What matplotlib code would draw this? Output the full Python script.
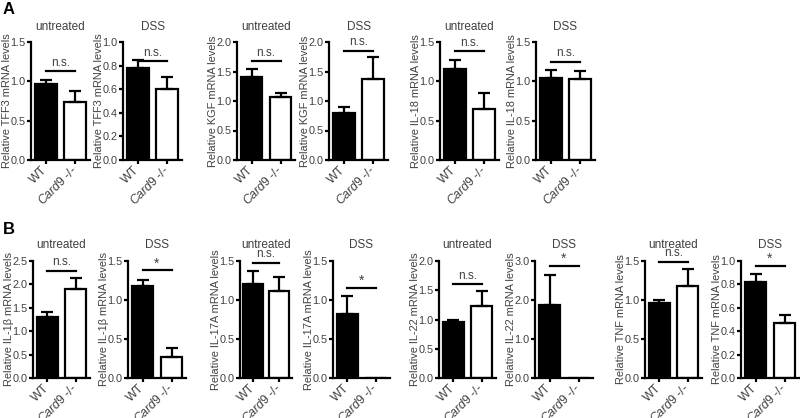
import matplotlib
matplotlib.use("Agg")
import matplotlib.pyplot as plt
import matplotlib.transforms as mtransforms
import numpy as np

plt.rcParams["font.family"] = ["Liberation Sans", "DejaVu Sans"]
plt.rcParams["mathtext.fontset"] = "custom"
plt.rcParams["mathtext.rm"] = "Liberation Sans"
plt.rcParams["mathtext.it"] = "Liberation Sans:italic"

# ── dados ──────────────────────────────────────────────────────────────── #
grupos = ["WT", r"$\mathit{Card9}$ -/-"]

# painel A
genes_a   = ["TFF3", "TFF3", "KGF", "KGF", "IL-18", "IL-18"]
cond_a    = ["untreated", "DSS", "untreated", "DSS", "untreated", "DSS"]
wt_a      = [0.96, 0.78, 1.41, 0.80, 1.16, 1.04]
wt_err_a  = [0.06, 0.07, 0.14, 0.10, 0.11, 0.11]
ko_a      = [0.74, 0.60, 1.07, 1.37, 0.65, 1.03]
ko_err_a  = [0.14, 0.10, 0.06, 0.37, 0.20, 0.10]
sig_a     = ["n.s."] * 6
sig_y_a   = [1.13, 0.84, 1.68, 1.85, 1.38, 1.25]
ymax_a    = [1.5, 1.0, 2.0, 2.0, 1.5, 1.5]
ystep_a   = [0.5, 0.2, 0.5, 0.5, 0.5, 0.5]

# painel B
genes_b   = ["IL-1β", "IL-1β", "IL-17A", "IL-17A", "IL-22", "IL-22", "TNF", "TNF"]
cond_b    = ["untreated", "DSS"] * 4
wt_b      = [1.30, 1.18, 1.21, 0.82, 0.96, 1.87, 0.96, 0.82]
wt_err_b  = [0.12, 0.08, 0.16, 0.23, 0.03, 0.77, 0.04, 0.07]
ko_b      = [1.90, 0.27, 1.12, 0.0, 1.23, 0.0, 1.18, 0.47]
ko_err_b  = [0.23, 0.11, 0.17, 0.0, 0.25, 0.0, 0.22, 0.07]
sig_b     = ["n.s.", "*", "n.s.", "*", "n.s.", "*", "n.s.", "*"]
sig_y_b   = [2.29, 1.38, 1.48, 1.16, 1.60, 2.88, 1.49, 0.96]
ymax_b    = [2.5, 1.5, 1.5, 1.5, 2.0, 3.0, 1.5, 1.0]
ystep_b   = [0.5, 0.5, 0.5, 0.5, 0.5, 1.0, 0.5, 0.2]

# ── layout (pixels da figura 800x418) ──────────────────────────────────── #
W, H = 800, 418
esq_a = [31, 123, 237, 329, 440, 536]
dir_a = [90, 182, 295, 388, 499, 595]
esq_b = [33, 128, 240, 333, 439, 535, 645, 741]
dir_b = [90, 186, 292, 390, 496, 593, 702, 799]
TOPO_A, BASE_A = 42, 160
TOPO_B, BASE_B = 261, 378

COR_TXT = "#404040"
LW = 1.6


def painel(fig, x0, x1, topo, base, gene, cond, wt, wt_e, ko, ko_e, sig, sig_y, ymax, ystep):
    larg = x1 - x0
    ax = fig.add_axes([x0 / W, 1 - base / H, larg / W, (base - topo) / H])
    x = np.arange(2)
    ax.bar(x, [wt, ko], 0.74, color=["black", "white"], edgecolor="black",
           linewidth=LW, zorder=2)
    for xi, v, e in zip(x, [wt, ko], [wt_e, ko_e]):
        if e > 0:
            ax.errorbar(xi, v, yerr=[[0], [e]], color="black", elinewidth=LW,
                        capsize=4.5, capthick=LW, zorder=3)
    ax.set_xlim(-0.5, 1.5)
    ax.set_ylim(0, ymax)
    ticks = np.arange(0, ymax + ystep / 2, ystep)
    ax.set_yticks(ticks)
    ax.set_yticklabels([f"{t:.1f}" for t in ticks], fontsize=7.8, color=COR_TXT)
    ax.set_xticks(x)
    ax.set_xticklabels(grupos, rotation=45, ha="right", va="center",
                       rotation_mode="anchor", fontsize=8.8, color=COR_TXT)
    desloc = mtransforms.ScaledTranslation(0.07, 0.015, fig.dpi_scale_trans)
    for lbl in ax.get_xticklabels():
        lbl.set_transform(lbl.get_transform() + desloc)
    ax.tick_params(axis="both", width=LW, length=3, pad=1)
    ax.tick_params(axis="x", pad=3)
    for s in ["top", "right"]:
        ax.spines[s].set_visible(False)
    for s in ["left", "bottom"]:
        ax.spines[s].set_linewidth(LW)
    ax.set_ylabel(f"Relative {gene} mRNA levels", fontsize=7.9, color=COR_TXT)
    ax.yaxis.set_label_coords(-19 / larg, 0.5)
    ax.set_title(cond, fontsize=8.5, color=COR_TXT, pad=9)
    # linha de significância
    ax.plot([0, 1], [sig_y, sig_y], color="black", lw=LW, clip_on=False, zorder=4)
    if sig == "*":
        ax.text(0.5, sig_y, "*", ha="center", va="bottom", fontsize=10, color=COR_TXT)
    else:
        ax.text(0.5, sig_y + ymax * 0.02, sig, ha="center", va="bottom", fontsize=8.5,
                color=COR_TXT)
    return ax


fig = plt.figure(figsize=(8, 4.18), dpi=100)

for i in range(len(genes_a)):
    painel(fig, esq_a[i], dir_a[i], TOPO_A, BASE_A, genes_a[i], cond_a[i],
           wt_a[i], wt_err_a[i], ko_a[i], ko_err_a[i], sig_a[i], sig_y_a[i],
           ymax_a[i], ystep_a[i])

for i in range(len(genes_b)):
    painel(fig, esq_b[i], dir_b[i], TOPO_B, BASE_B, genes_b[i], cond_b[i],
           wt_b[i], wt_err_b[i], ko_b[i], ko_err_b[i], sig_b[i], sig_y_b[i],
           ymax_b[i], ystep_b[i])

fig.text(3 / W, 1 - 10 / H, "A", fontsize=12, fontweight="bold", va="center")
fig.text(3 / W, 1 - 230 / H, "B", fontsize=12, fontweight="bold", va="center")

fig.savefig("out.png", dpi=100)
